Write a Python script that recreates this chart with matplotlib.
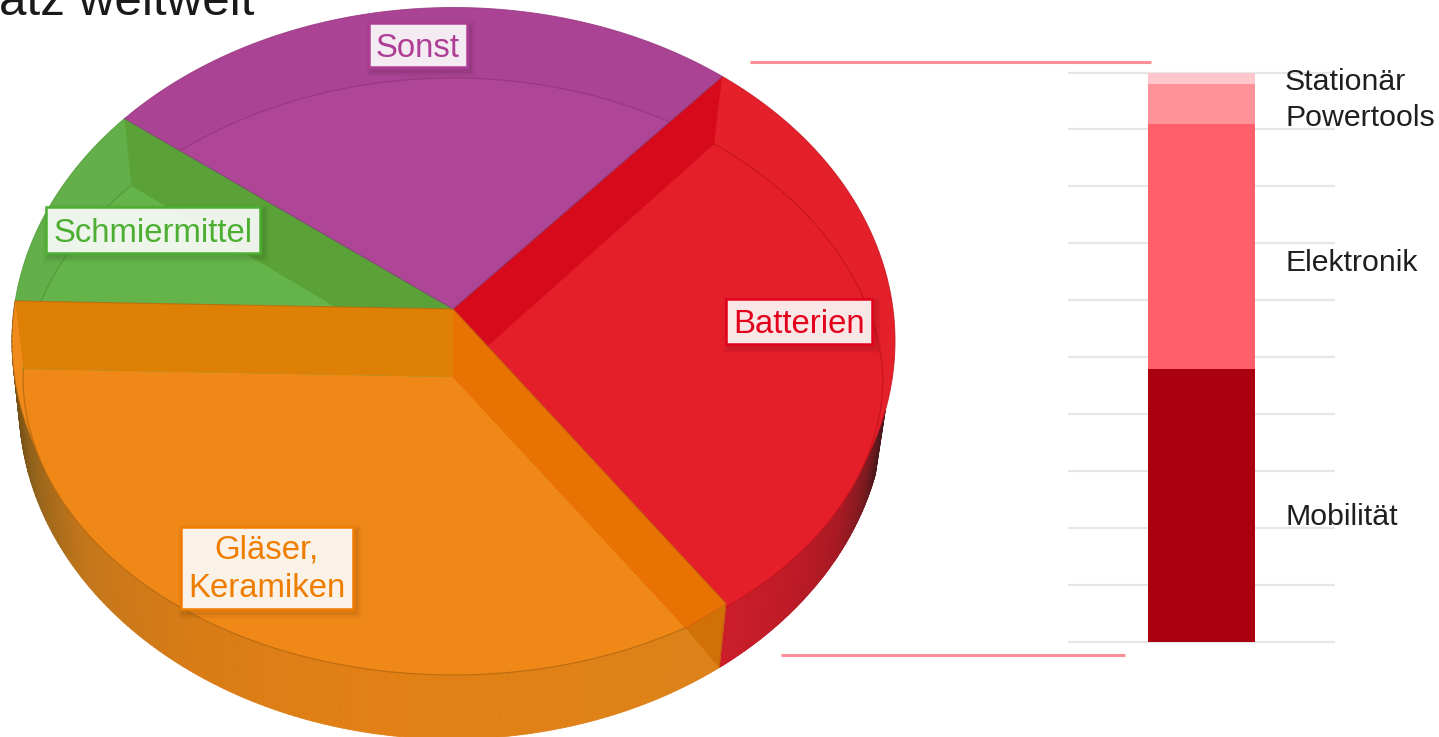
import numpy as np
import matplotlib
matplotlib.use("Agg")
import matplotlib.pyplot as plt
from matplotlib.patches import Polygon, Rectangle
from matplotlib.collections import PolyCollection
from matplotlib.colors import to_rgb

plt.rcParams['font.family'] = ['Liberation Sans', 'DejaVu Sans']

# ---- data ----
pie_names = ['Batterien', 'Gläser,\nKeramiken', 'Schmiermittel', 'Sonst']
pie_shares = [29.0, 37.5, 9.7, 23.8]
stack_names = ['Mobilität', 'Elektronik', 'Powertools', 'Stationär']
stack_values = [48, 43, 7, 2]
title_text = 'atz weltweit'

# ---- styles ----
W, H = 1439, 737
rim_cols = ['#e4202a', '#f08a1a', '#63b04a', '#aa4393']
floor_cols = ['#e51f2a', '#f08818', '#64b44a', '#ae4596']
wall_cols = ['#d70a1c', '#e87302', '#dd8005', '#5aa237']   # red/purple, orange/red, green/orange, green/purple
line_cols = ['#c4141e', '#b86a10', '#4f9a35', '#96367f']
label_cols = ['#e2001a', '#ef7d00', '#4caf32', '#ae3d96']
label_boxes = [(726, 299, 146, 45), (181, 527, 172, 82), (46, 207, 214, 46), (369, 23, 98, 44)]
label_shift = [3, 1, 3, 3]
stack_cols = ['#aa000f', '#ff5f6b', '#ff9299', '#ffc6cb']
stack_label_y = [517, 263, 118, 82]

# geometry of the dish
APEX = np.array([453.0, 309.0])
APEX2 = np.array([453.0, 377.0])
RIM = (453.5, 341.0, 441.5, 333.5)
FLOOR = (453.0, 376.5, 430.0, 298.5)
BASE = (452.0, 404.0, 433.0, 335.0)
START = 52.5
WARP = 0.04


def ell(e, t):
    t = np.radians(t)
    return np.column_stack([e[0] + e[2] * np.cos(t), e[1] - e[3] * np.sin(t)])


def warp(p):
    """Perspective narrowing of the far half of the floor."""
    p = np.atleast_2d(p).astype(float).copy()
    k = 1 - WARP * np.clip((FLOOR[1] - p[:, 1]) / FLOOR[3], 0, 1)
    p[:, 0] = FLOOR[0] + (p[:, 0] - FLOOR[0]) * k
    return p


def raw_floor_point(t):
    d = ell(RIM, np.array([t]))[0] - APEX
    s = 1 / np.sqrt((d[0] / FLOOR[2]) ** 2 + (d[1] / FLOOR[3]) ** 2)
    return APEX2 + s * d


def floor_point(t):
    return warp(raw_floor_point(t))[0]


def floor_param(p):
    return np.degrees(np.arctan2(-(p[1] - FLOOR[1]) / FLOOR[3], (p[0] - FLOOR[0]) / FLOOR[2]))


fig = plt.figure(figsize=(W / 100, H / 100), dpi=100)
ax = fig.add_axes([0, 0, 1, 1])
ax.set_xlim(0, W)
ax.set_ylim(H, 0)
ax.axis('off')

shares = np.array(pie_shares) / np.sum(pie_shares) * 360
bounds = START - np.concatenate([[0], np.cumsum(shares)])

# side wall with shading
side_stops = {
    'red': ([-52.0, -38, -28, -20, -12], ['#cc1c28', '#bc1a26', '#a81a24', '#801a20', '#4a181c']),
    'orange': ([-187.0, -175, -162, -147, -125, -100, -52],
               ['#5c4214', '#6e4c14', '#96641a', '#c4761a', '#d97c16', '#e28015', '#dc8218']),
}


def side(t0, t1, stops):
    ts = np.linspace(t0, t1, 160)
    a, b = ell(RIM, ts), ell(BASE, ts)
    polys, cols = [], []
    xs, cs = stops
    cs = np.array([to_rgb(c) for c in cs])
    for i in range(len(ts) - 1):
        polys.append([a[i], a[i + 1], b[i + 1], b[i]])
        m = 0.5 * (ts[i] + ts[i + 1])
        cols.append([np.interp(m, xs, cs[:, k]) for k in range(3)])
    ax.add_collection(PolyCollection(polys, facecolors=cols, edgecolors=cols, linewidths=0.6, zorder=1))


side(bounds[1], -12, side_stops['red'])
side(bounds[2], bounds[1], side_stops['orange'])

# rim wedges
wedges = []
for i in range(4):
    ts = np.linspace(bounds[i], bounds[i + 1], 120)
    arc = ell(RIM, ts)
    poly = Polygon(np.vstack([APEX, arc]), closed=True, fc=rim_cols[i], ec='none', zorder=2)
    ax.add_patch(poly)
    wedges.append(poly)
    ax.plot(arc[:, 0], arc[:, 1], color=line_cols[i], lw=0.7, alpha=0.8, zorder=2.1)

# floors
for i in range(4):
    f0, f1 = raw_floor_point(bounds[i]), raw_floor_point(bounds[i + 1])
    p0, p1 = floor_param(f0), floor_param(f1)
    if p1 > p0:
        p1 -= 360
    arc = warp(ell(FLOOR, np.linspace(p0, p1, 120)))
    poly = Polygon(np.vstack([APEX2, arc]), closed=True, fc=floor_cols[i], ec='none', zorder=3)
    ax.add_patch(poly)
    ln, = ax.plot(arc[:, 0], arc[:, 1], color=line_cols[i], lw=0.9, alpha=0.85, zorder=3.1)
    if i == 3:
        poly.set_clip_path(wedges[3])
        ln.set_clip_path(wedges[3])


def wall(t, col, z):
    r = ell(RIM, np.array([t]))[0]
    f = floor_point(t)
    ax.add_patch(Polygon([APEX, r, f, APEX2], closed=True, fc=col, ec='none', zorder=z))


wall(bounds[0], wall_cols[0], 4)              # red / purple
wall(bounds[3], wall_cols[3], 4)              # green / purple
wall(bounds[2], wall_cols[2], 4.2)            # orange / green
wall(bounds[1], wall_cols[1], 4.3)            # orange / red

# dark triangle where the orange wall meets the outer side
r1 = ell(RIM, np.array([bounds[1]]))[0]
b1 = ell(BASE, np.array([bounds[1]]))[0]
ax.add_patch(Polygon([r1, b1, floor_point(bounds[1])], closed=True, fc='#d07006', ec='none', zorder=4.4))
ax.plot([r1[0], b1[0]], [r1[1], b1[1]], color='#c05a10', lw=0.6, zorder=4.5)

# wedge edges
for t, c in zip(bounds[:4], ['#8c3a70', '#c0620c', '#b86c0c', '#7d4a70']):
    r = ell(RIM, np.array([t]))[0]
    ax.plot([APEX[0], r[0]], [APEX[1], r[1]], color=c, lw=0.8, alpha=0.85, zorder=4.6)

# connector lines
ax.plot([750, 1151], [62, 62], color='#ff8f96', lw=2.2, solid_capstyle='butt', zorder=6)
ax.plot([781, 1125], [655, 655], color='#ff8f96', lw=2.2, solid_capstyle='butt', zorder=6)

# labels on the pie
for name, col, (x, y, w, h), dy in zip(pie_names, label_cols, label_boxes, label_shift):
    for grow, a in [(6, 0.025), (4, 0.035), (2, 0.05)]:
        ax.add_patch(Rectangle((x + 3 - grow, y + 4 - grow), w + 2 * grow, h + 2 * grow,
                               fc='black', ec='none', alpha=a, zorder=7))
    ax.add_patch(Rectangle((x, y), w, h, fc=(1, 1, 1, 0.9), ec=col, lw=1.8, zorder=8))
    ax.text(x + w / 2, y + h / 2 + dy, name, color=col, fontsize=23.7, ha='center', va='center',
            linespacing=1.3, zorder=9)

# cropped heading
ax.text(-1, 15, title_text, fontsize=35.6, color='#1a1a1a', ha='left', va='baseline', zorder=9)

# stacked column
TOP, BOTTOM = 72.5, 642.0
unit = (BOTTOM - TOP) / 100
L, R = 1068, 1335
bax = fig.add_axes([L / W, 1 - (BOTTOM + unit) / H, (R - L) / W, (BOTTOM - TOP + 2 * unit) / H], zorder=0)
bax.set_ylim(-1, 101)
bax.set_xlim(L, R)
bax.patch.set_alpha(0)
for s in bax.spines.values():
    s.set_visible(False)
bax.set_xticks([])
bax.set_yticks(np.arange(0, 101, 10))
bax.tick_params(length=0, labelleft=False)
bax.grid(axis='y', color='#e6e6e6', lw=1.6)
bax.set_axisbelow(True)
bottom = 0
for v, c in zip(stack_values, stack_cols):
    bax.bar(1201.5, v, bottom=bottom, width=107, color=c, linewidth=0, zorder=3)
    bottom += v
ax.set_zorder(1)
ax.patch.set_alpha(0)

for name, y in zip(stack_names, stack_label_y):
    ax.text(1285, y, name, fontsize=21.8, color='#1f1f1f', ha='left', va='center', zorder=9)

fig.savefig('out.png', dpi=100)
